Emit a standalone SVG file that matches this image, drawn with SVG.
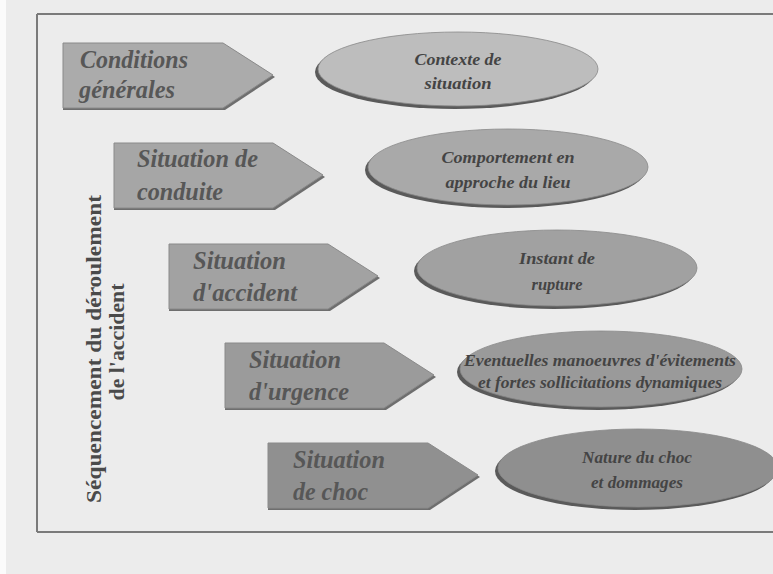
<svg xmlns="http://www.w3.org/2000/svg" width="773" height="574" viewBox="0 0 773 574">
<style>
  .frame{stroke:#7a7a7a;stroke-width:2;fill:none}
  .arr{stroke:#8a8a8a;stroke-width:1}
  .arrsh{fill:#6e6e6e}
  .ell{stroke:#888;stroke-width:0.8}
  .ellsh{fill:#5a5a5a}
  .at{font-family:"Liberation Serif","Times New Roman",serif;font-style:italic;font-weight:bold;font-size:25px;fill:#575757}
  .et{font-family:"Liberation Serif","Times New Roman",serif;font-style:italic;font-weight:bold;font-size:17px;fill:#444;text-anchor:middle}
  .vt{font-family:"Liberation Serif","Times New Roman",serif;font-weight:bold;font-size:21px;fill:#4a4a4a;text-anchor:middle}
</style>
<rect x="0" y="0" width="773" height="574" fill="#ececec"/>
<rect x="0" y="0" width="6" height="574" fill="#fbfbfb"/>
<g id="frame">
  <line class="frame" x1="37" y1="14" x2="773" y2="14"/>
  <line class="frame" x1="37" y1="14" x2="37" y2="532"/>
  <line class="frame" x1="37" y1="532" x2="773" y2="532"/>
</g>
<g id="axis-label">
  <text class="vt" transform="translate(101,349) rotate(-90)" textLength="308" lengthAdjust="spacingAndGlyphs">Séquencement du déroulement</text>
  <text class="vt" transform="translate(124,342) rotate(-90)" textLength="117" lengthAdjust="spacingAndGlyphs">de l'accident</text>
</g>
<g id="connectors"></g>

<g id="n1">
  <polygon class="arrsh" points="63,45 225,45 275,77 225,110 63,110"/>
  <polygon class="arr" fill="#ababab" points="63,43 223,43 273,75 223,108 63,108"/>
  <text class="at" x="80" y="68" textLength="108" lengthAdjust="spacingAndGlyphs">Conditions</text>
  <text class="at" x="79" y="98" textLength="96" lengthAdjust="spacingAndGlyphs">générales</text>
</g>
<g id="e1">
  <ellipse class="ellsh" cx="455" cy="72" rx="140" ry="37"/>
  <ellipse class="ell" fill="#bdbdbd" cx="458" cy="69" rx="140" ry="37"/>
  <text class="et" x="458" y="65" textLength="87" lengthAdjust="spacingAndGlyphs">Contexte de</text>
  <text class="et" x="458" y="89" textLength="67" lengthAdjust="spacingAndGlyphs">situation</text>
</g>

<g id="n2">
  <polygon class="arrsh" points="114,145 275,145 325,177 275,210 114,210"/>
  <polygon class="arr" fill="#a6a6a6" points="114,143 273,143 323,175 273,208 114,208"/>
  <text class="at" x="137" y="167" textLength="121" lengthAdjust="spacingAndGlyphs">Situation de</text>
  <text class="at" x="137" y="200" textLength="86" lengthAdjust="spacingAndGlyphs">conduite</text>
</g>
<g id="e2">
  <ellipse class="ellsh" cx="505" cy="170" rx="140" ry="38"/>
  <ellipse class="ell" fill="#a9a9a9" cx="508" cy="167" rx="140" ry="38"/>
  <text class="et" x="508" y="163" textLength="133" lengthAdjust="spacingAndGlyphs">Comportement en</text>
  <text class="et" x="508" y="188" textLength="125" lengthAdjust="spacingAndGlyphs">approche du lieu</text>
</g>

<g id="n3">
  <polygon class="arrsh" points="169,246 330,246 380,278 330,311 169,311"/>
  <polygon class="arr" fill="#a2a2a2" points="169,244 328,244 378,276 328,309 169,309"/>
  <text class="at" x="193" y="269" textLength="93" lengthAdjust="spacingAndGlyphs">Situation</text>
  <text class="at" x="193" y="301" textLength="104" lengthAdjust="spacingAndGlyphs">d'accident</text>
</g>
<g id="e3">
  <ellipse class="ellsh" cx="554" cy="271" rx="140" ry="38"/>
  <ellipse class="ell" fill="#a1a1a1" cx="557" cy="268" rx="140" ry="38"/>
  <text class="et" x="557" y="264" textLength="76" lengthAdjust="spacingAndGlyphs">Instant de</text>
  <text class="et" x="557" y="290" textLength="51" lengthAdjust="spacingAndGlyphs">rupture</text>
</g>

<g id="n4">
  <polygon class="arrsh" points="225,345 386,345 436,377 386,410 225,410"/>
  <polygon class="arr" fill="#9b9b9b" points="225,343 384,343 434,375 384,408 225,408"/>
  <text class="at" x="249" y="368" textLength="92" lengthAdjust="spacingAndGlyphs">Situation</text>
  <text class="at" x="249" y="400" textLength="100" lengthAdjust="spacingAndGlyphs">d'urgence</text>
</g>
<g id="e4">
  <ellipse class="ellsh" cx="598" cy="372" rx="141" ry="38"/>
  <ellipse class="ell" fill="#9a9a9a" cx="601" cy="369" rx="141" ry="38"/>
  <text class="et" x="600" y="366" font-size="16" textLength="272" lengthAdjust="spacingAndGlyphs">Eventuelles manoeuvres d'évitements</text>
  <text class="et" x="600" y="388" font-size="16" textLength="244" lengthAdjust="spacingAndGlyphs">et fortes sollicitations dynamiques</text>
</g>

<g id="n5">
  <polygon class="arrsh" points="268,445 430,445 480,477 430,510 268,510"/>
  <polygon class="arr" fill="#909090" points="268,443 428,443 478,475 428,508 268,508"/>
  <text class="at" x="293" y="468" textLength="92" lengthAdjust="spacingAndGlyphs">Situation</text>
  <text class="at" x="293" y="500" textLength="75" lengthAdjust="spacingAndGlyphs">de choc</text>
</g>
<g id="e5">
  <ellipse class="ellsh" cx="635" cy="471" rx="140" ry="39"/>
  <ellipse class="ell" fill="#8f8f8f" cx="638" cy="468" rx="140" ry="39"/>
  <text class="et" x="637" y="463" font-size="16" textLength="110" lengthAdjust="spacingAndGlyphs">Nature du choc</text>
  <text class="et" x="637" y="488" font-size="16" textLength="92" lengthAdjust="spacingAndGlyphs">et dommages</text>
</g>
</svg>
